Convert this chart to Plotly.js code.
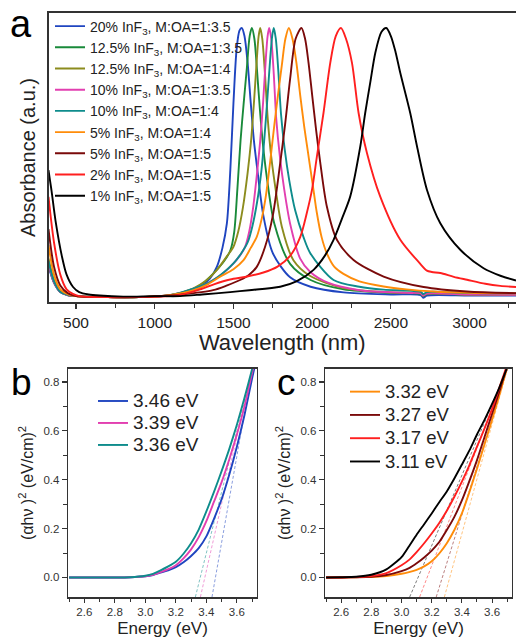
<!DOCTYPE html>
<html><head><meta charset="utf-8">
<script src="https://cdn.plot.ly/plotly-3.0.1.min.js"></script>
<style>html,body{margin:0;padding:0;background:#fff}#chart{width:516px;height:638px}</style>
</head><body><div id="chart"></div>
<script>
// ---------- Panel a: absorbance spectra ----------
const namesA = [
  "20% InF<sub>3</sub>, M:OA=1:3.5",
  "12.5% InF<sub>3</sub>, M:OA=1:3.5",
  "12.5% InF<sub>3</sub>, M:OA=1:4",
  "10% InF<sub>3</sub>, M:OA=1:3.5",
  "10% InF<sub>3</sub>, M:OA=1:4",
  "5% InF<sub>3</sub>, M:OA=1:4",
  "5% InF<sub>3</sub>, M:OA=1:5",
  "2% InF<sub>3</sub>, M:OA=1:5",
  "1% InF<sub>3</sub>, M:OA=1:5"
];
const colorsA = ['#1f45c0','#198a3a','#8c8c1e','#e23fb0','#0e8c8c','#ff8c0a','#7a0a0a','#ff1f1f','#000000'];

const wlBlue = [325,360,400,450,500,700,900,1100,1200,1290,1350,1395,1430,1458,1480,1500,1520,1538,1553,1570,1590,1610,1630,1650,1690,1750,1860,1990,2200,2500,2690,2705,2730,3000,3295];
const absBlue = [0.11,0.05,0.015,0.003,0,-0.004,-0.004,0.002,0.01,0.035,0.065,0.11,0.18,0.27,0.47,0.72,0.92,0.99,1.0,0.97,0.87,0.72,0.58,0.48,0.3,0.16,0.07,0.035,0.014,0.006,0.004,-0.006,0.002,0.002,0.002];

const wlGreen = [325,360,400,450,500,700,900,1100,1225,1300,1373,1440,1480,1505,1525,1545,1565,1585,1603,1617,1633,1650,1670,1690,1715,1760,1860,1990,2200,2500,2690,2705,2730,3000,3295];
const absGreen = [0.12,0.05,0.015,0.003,0,-0.004,-0.004,0.003,0.022,0.045,0.085,0.13,0.17,0.24,0.4,0.58,0.72,0.85,0.97,1.0,0.96,0.84,0.68,0.55,0.43,0.27,0.12,0.06,0.025,0.012,0.008,0.0,0.007,0.005,0.004];

const wlOlive = [325,360,400,450,500,700,900,1100,1246,1320,1394,1460,1500,1530,1560,1590,1612,1630,1648,1660,1670,1683,1700,1718,1740,1770,1807,1881,1988,2200,2500,2690,2705,2730,3000,3295];
const absOlive = [0.14,0.06,0.018,0.004,0,-0.004,-0.004,0.003,0.029,0.055,0.097,0.15,0.184,0.24,0.33,0.46,0.58,0.72,0.88,0.97,1.0,0.96,0.83,0.66,0.52,0.39,0.26,0.134,0.075,0.03,0.014,0.01,0.003,0.009,0.006,0.005];

const wlPink = [325,360,400,450,500,700,900,1100,1288,1400,1479,1540,1574,1600,1625,1650,1670,1688,1705,1717,1727,1740,1756,1772,1795,1822,1860,1924,1988,2100,2300,2600,2690,2705,2730,3000,3295];
const absPink = [0.12,0.05,0.015,0.003,0,-0.004,-0.004,0.003,0.035,0.07,0.109,0.15,0.184,0.24,0.33,0.46,0.58,0.72,0.88,0.97,1.0,0.96,0.83,0.66,0.52,0.4,0.27,0.14,0.09,0.05,0.022,0.012,0.01,0.002,0.009,0.006,0.005];

const wlTeal = [325,360,400,450,500,700,900,1100,1331,1420,1500,1550,1590,1620,1650,1678,1698,1716,1734,1746,1756,1769,1785,1802,1825,1855,1892,1945,1988,2136,2300,2454,2690,2705,2730,3000,3295];
const absTeal = [0.13,0.055,0.016,0.004,0,-0.004,-0.004,0.004,0.047,0.08,0.122,0.16,0.2,0.26,0.35,0.47,0.6,0.74,0.89,0.97,1.0,0.96,0.84,0.68,0.55,0.43,0.32,0.22,0.16,0.06,0.035,0.024,0.016,0.008,0.015,0.011,0.01];

const wlOrange = [325,360,400,450,500,700,900,1100,1246,1340,1415,1500,1564,1610,1648,1680,1705,1733,1760,1785,1807,1830,1852,1875,1900,1924,1950,1970,1990,2010,2030,2060,2093,2140,2199,2300,2454,2600,2772,3000,3295];
const absOrange = [0.19,0.08,0.025,0.006,0,-0.004,-0.004,0.004,0.022,0.045,0.072,0.1,0.134,0.18,0.221,0.29,0.37,0.5,0.64,0.76,0.86,0.96,1.0,0.96,0.87,0.75,0.63,0.55,0.47,0.39,0.31,0.22,0.16,0.11,0.083,0.055,0.036,0.025,0.017,0.012,0.01];

const wlDarkRed = [325,360,400,450,500,700,900,1100,1161,1371,1460,1542,1600,1648,1701,1750,1797,1828,1860,1895,1932,1955,1977,2000,2025,2051,2093,2157,2263,2454,2708,2984,3295];
const absDarkRed = [0.25,0.11,0.04,0.01,0,-0.004,-0.004,0.002,0.005,0.022,0.04,0.06,0.08,0.109,0.184,0.3,0.496,0.64,0.81,0.96,1.0,0.96,0.87,0.75,0.62,0.5,0.335,0.21,0.135,0.073,0.034,0.017,0.011];

const wlRed = [325,360,400,440,480,520,700,900,1100,1161,1288,1380,1479,1580,1690,1780,1860,1924,1966,2000,2030,2072,2115,2150,2183,2215,2253,2295,2348,2432,2560,2680,2729,2760,2814,2900,2984,3100,3195,3295];
const absRed = [0.37,0.2,0.08,0.025,0.008,0,-0.004,-0.003,0,0.004,0.025,0.045,0.062,0.072,0.088,0.11,0.15,0.22,0.31,0.4,0.52,0.683,0.87,0.97,1.0,0.96,0.87,0.683,0.534,0.372,0.21,0.125,0.095,0.09,0.086,0.072,0.061,0.046,0.038,0.034];

const wlBlack = [325,335,345,370,411,440,481,520,580,650,800,1000,1161,1300,1479,1600,1797,1900,2009,2080,2136,2190,2242,2306,2337,2370,2401,2440,2471,2500,2530,2560,2623,2666,2729,2814,2941,3089,3200,3295];
const absBlack = [0.47,0.43,0.39,0.28,0.146,0.08,0.034,0.015,0.006,0.002,-0.002,0,0,0.006,0.015,0.022,0.035,0.055,0.098,0.15,0.21,0.29,0.372,0.559,0.683,0.8,0.907,0.985,1.0,0.97,0.91,0.832,0.683,0.559,0.397,0.272,0.173,0.104,0.075,0.058];

const wlA = [wlBlue, wlGreen, wlOlive, wlPink, wlTeal, wlOrange, wlDarkRed, wlRed, wlBlack];
const absA = [absBlue, absGreen, absOlive, absPink, absTeal, absOrange, absDarkRed, absRed, absBlack];
const ticksA = [500, 1000, 1500, 2000, 2500, 3000];

// ---------- Panel b: Tauc plots ----------
const energyB = [2.5,2.6,2.7,2.8,2.9,3.0,3.05,3.1,3.15,3.2,3.25,3.3,3.35,3.4,3.45,3.5,3.55,3.6,3.65,3.7,3.73];
const namesB = ["3.46 eV", "3.39 eV", "3.36 eV"];
const colorsB = ['#1f45c0', '#e23fb0', '#0e8c8c'];
const taucB = [
  [0,0,0,0,0.001,0.005,0.01,0.02,0.029,0.042,0.062,0.088,0.12,0.168,0.24,0.32,0.42,0.535,0.665,0.815,0.9],
  [0,0,0,0,0.001,0.005,0.011,0.022,0.034,0.05,0.078,0.115,0.165,0.23,0.31,0.39,0.483,0.585,0.7,0.838,0.91],
  [0,0,0,0,0.001,0.007,0.015,0.029,0.045,0.064,0.097,0.14,0.196,0.27,0.35,0.435,0.525,0.625,0.735,0.853,0.92]
];
const fitB_E = [[3.437,3.70],[3.361,3.70],[3.328,3.70]];
const fitB_V = [[-0.08,0.85],[-0.08,0.85],[-0.08,0.85]];

// ---------- Panel c: Tauc plots ----------
const energyC = [2.5,2.6,2.7,2.8,2.9,3.0,3.05,3.1,3.15,3.2,3.25,3.3,3.35,3.4,3.45,3.5,3.55,3.6,3.65,3.7,3.73];
const namesC = ["3.32 eV", "3.27 eV", "3.17 eV", "3.11 eV"];
const colorsC = ['#ff8c0a', '#7a0a0a', '#ff1f1f', '#000000'];
const taucC = [
  [0,0,0.001,0.002,0.006,0.015,0.022,0.031,0.045,0.066,0.098,0.14,0.194,0.262,0.35,0.445,0.545,0.645,0.75,0.86,0.91],
  [0,0,0.001,0.003,0.01,0.026,0.038,0.058,0.082,0.11,0.145,0.194,0.248,0.315,0.395,0.48,0.575,0.67,0.765,0.865,0.92],
  [0,0,0.002,0.006,0.018,0.05,0.072,0.104,0.14,0.18,0.223,0.273,0.33,0.392,0.46,0.535,0.61,0.69,0.78,0.87,0.92],
  [0,0.001,0.003,0.011,0.033,0.083,0.128,0.175,0.218,0.262,0.308,0.352,0.405,0.462,0.52,0.585,0.645,0.71,0.78,0.86,0.91]
];
const fitC_E = [[3.284,3.70],[3.23,3.70],[3.12,3.70],[3.054,3.70]];
const fitC_V = [[-0.08,0.85],[-0.08,0.85],[-0.08,0.85],[-0.08,0.85]];

// ---------- build traces ----------
const FONT = 'Arial, "Liberation Sans", sans-serif';
const traces = [];
wlA.forEach((wl, i) => {
  traces.push({
    x: wl, y: absA[i], type: 'scatter', mode: 'lines', name: namesA[i],
    line: {color: colorsA[i], width: 1.9, shape: 'spline', smoothing: 0.8},
    xaxis: 'x', yaxis: 'y', legend: 'legend'
  });
});
fitB_E.forEach((e, i) => {
  traces.push({x: e, y: fitB_V[i], type: 'scatter', mode: 'lines', showlegend: false, opacity: 0.75,
    line: {color: colorsB[i], width: 0.7, dash: '3px,2px'}, xaxis: 'x2', yaxis: 'y2', hoverinfo: 'skip'});
});
taucB.forEach((v, i) => {
  traces.push({
    x: energyB, y: v, type: 'scatter', mode: 'lines',
    name: '<span style="font-size:19px">' + namesB[i] + '</span>',
    line: {color: colorsB[i], width: 1.9, shape: 'spline', smoothing: 0.6},
    xaxis: 'x2', yaxis: 'y2', legend: 'legend2'
  });
});
fitC_E.forEach((e, i) => {
  traces.push({x: e, y: fitC_V[i], type: 'scatter', mode: 'lines', showlegend: false, opacity: 0.75,
    line: {color: colorsC[i], width: 0.7, dash: '3px,2px'}, xaxis: 'x3', yaxis: 'y3', hoverinfo: 'skip'});
});
taucC.forEach((v, i) => {
  traces.push({
    x: energyC, y: v, type: 'scatter', mode: 'lines',
    name: '<span style="font-size:18.5px">' + namesC[i] + '</span>',
    line: {color: colorsC[i], width: 1.9, shape: 'spline', smoothing: 0.6},
    xaxis: 'x3', yaxis: 'y3', legend: 'legend3'
  });
});

const W = 516, H = 638;
const px = v => v / W;
const py = v => 1 - v / H;

const axLine = {showline: true, linecolor: '#333', linewidth: 1.6, showgrid: false, zeroline: false};
const smallAxX = Object.assign({}, axLine, {
  range: [2.495, 3.73], tickmode: 'linear', tick0: 2.6, dtick: 0.2, tickformat: '.1f',
  ticks: 'outside', ticklen: 4, tickwidth: 1.1, tickcolor: '#333', mirror: true,
  minor: {dtick: 0.1, tick0: 2.5, ticks: 'outside', ticklen: 3, tickwidth: 1, tickcolor: '#333'},
  tickfont: {family: FONT, size: 11.5, color: '#333'},
  title: {text: 'Energy (eV)', font: {family: FONT, size: 17, color: '#222'}, standoff: 5}
});
const smallAxY = Object.assign({}, axLine, {
  range: [-0.08, 0.853], tickmode: 'linear', tick0: 0, dtick: 0.2, tickformat: '.1f',
  ticks: 'outside', ticklen: 5, tickwidth: 1.1, tickcolor: '#333', mirror: true,
  minor: {dtick: 0.1, tick0: 0, ticks: 'outside', ticklen: 3.5, tickwidth: 1, tickcolor: '#333'},
  tickfont: {family: FONT, size: 11.5, color: '#333'},
  title: {text: '(αhν )<sup>2</sup> (eV/cm)<sup>2</sup>', font: {family: FONT, size: 16, color: '#222'}, standoff: 6}
});

const layout = {
  width: W, height: H, autosize: false,
  margin: {l: 0, r: 0, t: 0, b: 0, pad: 0},
  paper_bgcolor: '#fff', plot_bgcolor: 'rgba(0,0,0,0)',
  font: {family: FONT, color: '#222'},
  showlegend: true,
  xaxis: Object.assign({}, axLine, {
    domain: [px(48.5), 1], anchor: 'y', range: [325, 3295], mirror: true, linewidth: 1.9,
    tickmode: 'array', tickvals: ticksA, ticks: 'outside', ticklen: 5, tickwidth: 1.2, tickcolor: '#333',
    minor: {dtick: 250, tick0: 0, ticks: 'outside', ticklen: 4, tickwidth: 1.1, tickcolor: '#333'},
    tickfont: {family: FONT, size: 15.5, color: '#222'},
    title: {text: 'Wavelength (nm)', font: {family: FONT, size: 22, color: '#222'}, standoff: 2}
  }),
  yaxis: Object.assign({}, axLine, {
    domain: [py(302), py(13)], anchor: 'x', range: [-0.022, 1.056], linewidth: 1.9,
    showticklabels: false, ticks: '', mirror: false,
    title: {text: 'Absorbance (a.u.)', font: {family: FONT, size: 20, color: '#222'}, standoff: 6}
  }),
  xaxis2: Object.assign({}, smallAxX, {domain: [px(68.3), px(256.7)], anchor: 'y2'}),
  yaxis2: Object.assign({}, smallAxY, {domain: [py(597), py(369)], anchor: 'x2'}),
  xaxis3: Object.assign({}, smallAxX, {domain: [px(325.3), px(511.7)], anchor: 'y3'}),
  yaxis3: Object.assign({}, smallAxY, {domain: [py(597), py(369)], anchor: 'x3'}),
  legend: {x: px(50), xanchor: 'left', y: py(10.5), yanchor: 'top', bgcolor: 'rgba(0,0,0,0)',
    font: {family: FONT, size: 14, color: '#222'}, traceorder: 'normal'},
  legend2: {x: px(93), xanchor: 'left', y: py(385), yanchor: 'top', bgcolor: 'rgba(0,0,0,0)',
    font: {family: FONT, size: 14.6, color: '#222'}, traceorder: 'normal'},
  legend3: {x: px(345), xanchor: 'left', y: py(375), yanchor: 'top', bgcolor: 'rgba(0,0,0,0)',
    font: {family: FONT, size: 15.6, color: '#222'}, traceorder: 'normal'},
  annotations: [
    {text: 'a', x: px(21), y: py(24), xref: 'paper', yref: 'paper', showarrow: false,
     xanchor: 'center', yanchor: 'middle', font: {family: FONT, size: 38, color: '#000'}},
    {text: 'b', x: px(21), y: py(382), xref: 'paper', yref: 'paper', showarrow: false,
     xanchor: 'center', yanchor: 'middle', font: {family: FONT, size: 37, color: '#000'}},
    {text: 'c', x: px(286), y: py(382), xref: 'paper', yref: 'paper', showarrow: false,
     xanchor: 'center', yanchor: 'middle', font: {family: FONT, size: 37, color: '#000'}}
  ]
};

Plotly.newPlot('chart', traces, layout, {displayModeBar: false, staticPlot: true});
</script></body></html>
